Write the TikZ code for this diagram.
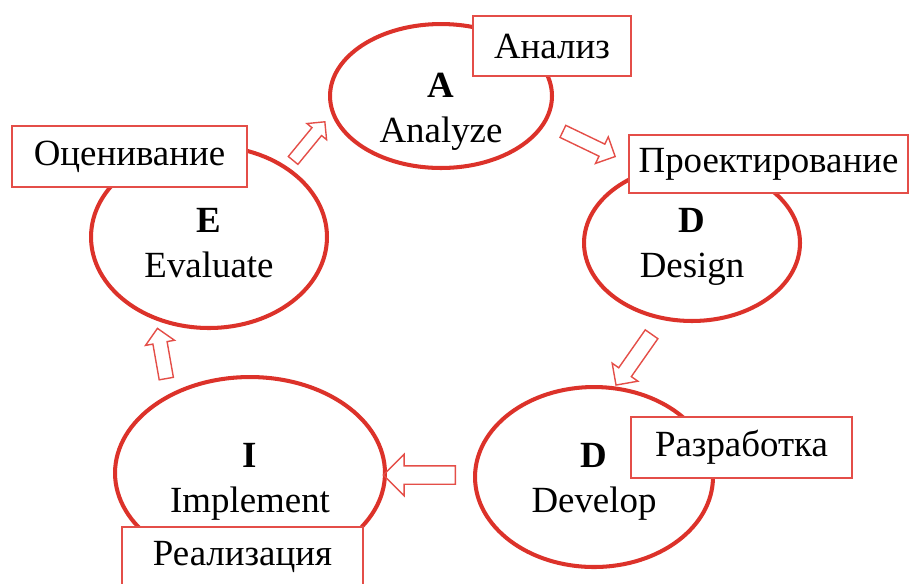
\documentclass[tikz,border=0pt]{standalone}
\usepackage{fontspec}
\setmainfont{Liberation Serif}
\usetikzlibrary{shapes.geometric,shapes.arrows}
\definecolor{ringred}{RGB}{220,50,42}
\definecolor{boxred}{RGB}{228,78,72}

\begin{document}
\begin{tikzpicture}[x=0.02cm,y=-0.02cm,
  phase/.style={ellipse,draw=ringred,line width=2.3pt,inner sep=0pt},
  word/.style={align=center,inner sep=0pt,font=\fontsize{21}{25.5}\selectfont},
  tag/.style={draw=boxred,line width=0.8pt,fill=white,inner sep=0pt,font=\fontsize{21}{25}\selectfont},
  flow/.style={single arrow,draw=boxred,line width=0.8pt,inner xsep=0pt,single arrow head indent=0pt}]
\useasboundingbox (0,0) rectangle (911,583);
% the five phases
\node[phase,minimum width=4.44cm,minimum height=2.88cm] (A) at (441,96) {};
\node[phase,minimum width=4.32cm,minimum height=3.12cm] (D1) at (692,243) {};
\node[phase,minimum width=4.76cm,minimum height=3.6cm] (D2) at (594,477) {};
\node[phase,minimum width=5.4cm,minimum height=3.84cm] (I) at (250,473) {};
\node[phase,minimum width=4.72cm,minimum height=3.64cm] (E) at (209,237) {};
\node[word] (Aw) at (441,111.5) {\textbf{A}\\Analyze};
\node[word] (D1w) at (692,246.5) {\textbf{D}\\Design};
\node[word] (D2w) at (594,481.5) {\textbf{D}\\Develop};
\node[word] (Iw) at (250,482) {\textbf{I}\\Implement};
\node[word] (Ew) at (209,243) {\textbf{E}\\Evaluate};
% russian tags
\node[tag,minimum width=3.16cm,minimum height=1.2cm] (tA) at (552,46) {Анализ};
\node[tag,minimum width=5.58cm,minimum height=1.16cm] (tD1) at (768.5,164) {Проектирование};
\node[tag,minimum width=4.42cm,minimum height=1.22cm] (tD2) at (741.5,447.5) {Разработка};
\node[tag,minimum width=4.82cm,minimum height=1.2cm] (tI) at (242.5,557) {Реализация};
\node[tag,minimum width=4.7cm,minimum height=1.22cm] (tE) at (129.5,156.5) {Оценивание};
% block arrows
\node[flow,rotate=50.6,minimum height=1cm,inner ysep=0.11cm,single arrow head extend=0.13cm] (f1) at (307,143.5) {};
\node[flow,rotate=-25.7,minimum height=1.16cm,inner ysep=0.12cm,single arrow head extend=0.16cm] (f2) at (586,142.5) {};
\node[flow,rotate=-125,minimum height=1.24cm,inner ysep=0.14cm,single arrow head extend=0.16cm] (f3) at (636,356.5) {};
\node[flow,rotate=180,minimum height=1.44cm,inner ysep=0.17cm,single arrow head extend=0.23cm] (f4) at (424,475) {};
\node[flow,rotate=100,minimum height=1.02cm,inner ysep=0.13cm,single arrow head extend=0.15cm] (f5) at (162.5,357) {};
\end{tikzpicture}
\end{document}
